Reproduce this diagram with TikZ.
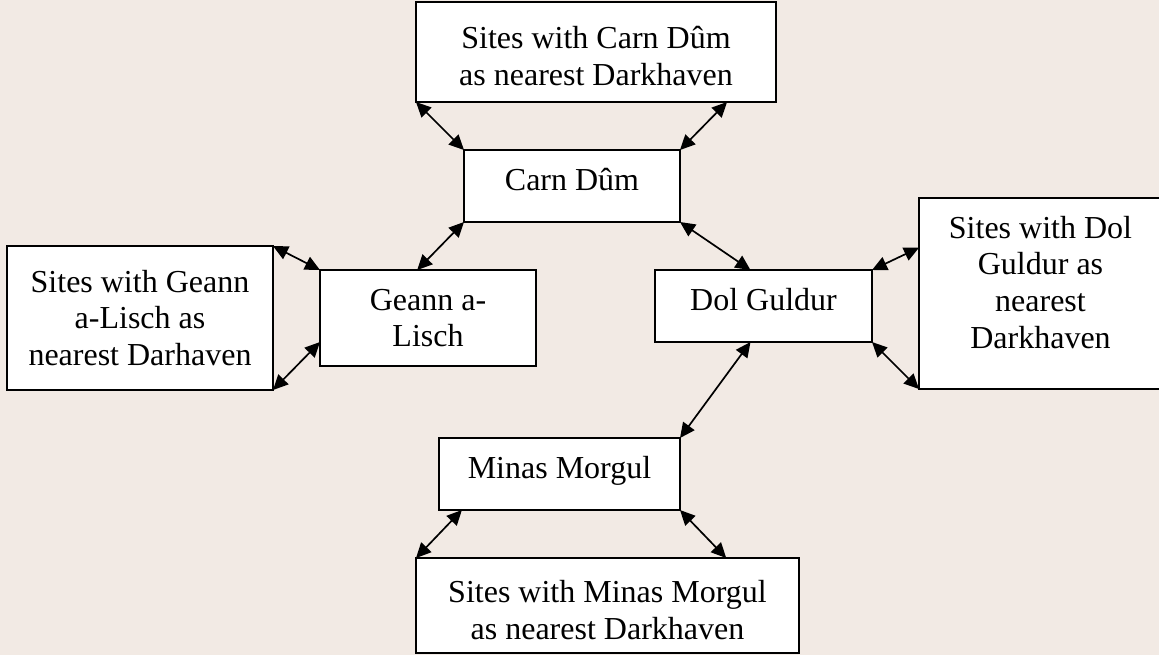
\documentclass[tikz,border=0pt]{standalone}
\usepackage{fontspec}
\setmainfont{Liberation Serif}
\usetikzlibrary{positioning,calc,arrows.meta}

\begin{document}
\begin{tikzpicture}[x=0.5pt,y=-0.5pt,
		place/.style={draw,fill=white,line width=0.9pt,inner sep=0pt,outer sep=0pt,
			align=center,font=\fontsize{16}{18.4}\selectfont},
		oneline/.style={text height=11pt,text depth=7pt},
		link/.style={<->,>={Triangle[length=7.5pt,width=7pt]},line width=0.85pt}]
		\fill[fill={rgb,255:red,242;green,234;blue,228}] (0,0) rectangle (1159,655);
		\useasboundingbox (0,0) rectangle (1159,655);

		\node[place,minimum width=180pt,minimum height=50pt]		(topsite)	at (596,52)		{\raisebox{-4pt}[\height][\depth]{\begin{tabular}{@{}c@{}}Sites with Carn Dûm\\as nearest Darkhaven\end{tabular}}};
		\node[place,oneline,minimum width=108pt,minimum height=36pt]	(carn)		at (572,186)	{Carn Dûm};
		\node[place,minimum width=108pt,minimum height=48pt]		(geann)		at (428,318)	{Geann a-\\Lisch};
		\node[place,minimum width=133pt,minimum height=72pt]		(leftsite)	at (140,318)	{Sites with Geann\\a-Lisch as\\nearest Darhaven};
		\node[place,oneline,minimum width=108.5pt,minimum height=36pt]	(dol)		at (763.5,306)	{Dol Guldur};
		\node[place,minimum width=121.5pt,minimum height=95.5pt]	(rightsite)	at (1040.5,293.5)	{\raisebox{3.75pt}[\height][\depth]{\begin{tabular}{@{}c@{}}Sites with Dol\\Guldur as\\nearest\\Darkhaven\end{tabular}}};
		\node[place,oneline,minimum width=120.5pt,minimum height=36pt]	(minas)		at (559.5,474)	{Minas Morgul};
		\node[place,minimum width=191.5pt,minimum height=47.5pt]	(botsite)	at (607.5,605.5)	{\raisebox{-4pt}[\height][\depth]{\begin{tabular}{@{}c@{}}Sites with Minas Morgul\\as nearest Darkhaven\end{tabular}}};

		\draw[link]	(topsite.south west)	-- (carn.north west);
		\draw[link]	($(topsite.south west)!0.864!(topsite.south east)$)	-- (carn.north east);
		\draw[link]	(carn.south west)		-- ($(geann.north west)!0.45!(geann.north east)$);
		\draw[link]	(carn.south east)		-- ($(dol.north west)!0.44!(dol.north east)$);
		\draw[link]	(leftsite.north east)	-- (geann.north west);
		\draw[link]	(leftsite.south east)	-- ($(geann.north west)!0.75!(geann.south west)$);
		\draw[link]	(dol.north east)		-- ($(rightsite.north west)!0.26!(rightsite.south west)$);
		\draw[link]	(dol.south east)		-- (rightsite.south west);
		\draw[link]	($(dol.south west)!0.44!(dol.south east)$)	-- (minas.north east);
		\draw[link]	($(minas.south west)!0.095!(minas.south east)$)	-- (botsite.north west);
		\draw[link]	(minas.south east)		-- ($(botsite.north west)!0.81!(botsite.north east)$);
	\end{tikzpicture}
\end{document}
